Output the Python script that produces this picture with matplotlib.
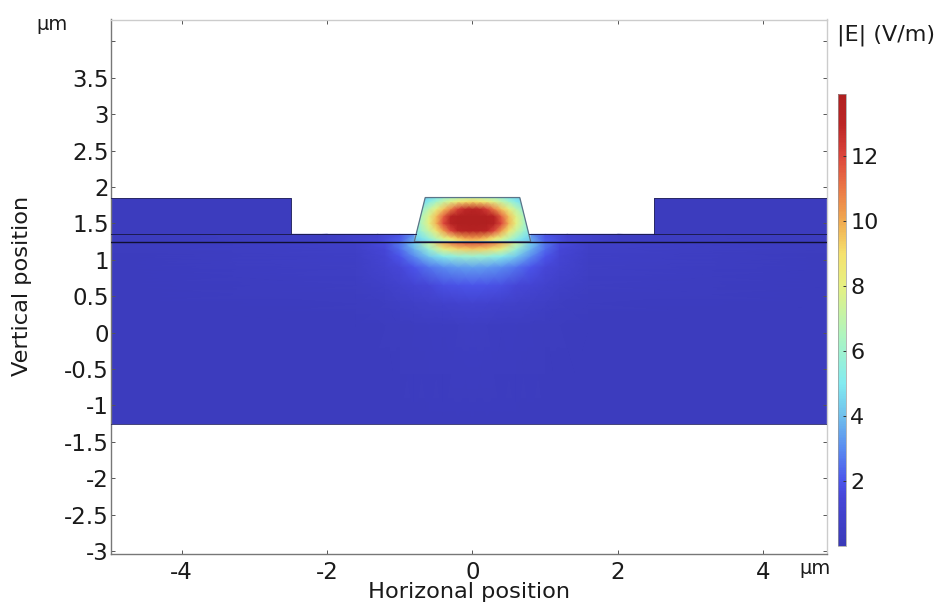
import numpy as np
import matplotlib
matplotlib.use('Agg')
import matplotlib.pyplot as plt
from matplotlib.colors import LinearSegmentedColormap, Normalize
from matplotlib.patches import Polygon

# layer heights (um)
substrate_bottom = -1.25
interface_y = 1.25
slab_top = 1.35
rib_top = 1.855
# rib outline
rib_top_half = 0.65
rib_bottom_half = 0.8
trench_half = 2.5

x_ticks = [-4, -2, 0, 2, 4]
y_ticks = [-3, -2.5, -2, -1.5, -1, -0.5, 0, 0.5, 1, 1.5, 2, 2.5, 3, 3.5, 4]
y_tick_labels = ['-3', '-2.5', '-2', '-1.5', '-1', '-0.5', '0', '0.5', '1', '1.5', '2', '2.5', '3', '3.5', '']
cbar_ticks = [2, 4, 6, 8, 10, 12]

# |E|, right half only (field is symmetric)
low_x = [0, 0.2, 0.4, 0.6, 0.8, 1.0, 1.2, 1.6, 5.0]
low_y = [-1.25, 0.1, 0.4, 0.65, 0.9, 1.05, 1.15, 1.25]
low_E = [
    [0.30, 0.30, 0.30, 0.30, 0.30, 0.30, 0.30, 0.30, 0.30],
    [0.55, 0.52, 0.48, 0.44, 0.40, 0.38, 0.35, 0.32, 0.30],
    [1.10, 1.05, 0.95, 0.85, 0.72, 0.60, 0.50, 0.40, 0.30],
    [2.00, 1.95, 1.80, 1.50, 1.25, 1.00, 0.80, 0.50, 0.30],
    [3.40, 3.30, 3.00, 2.60, 2.00, 1.50, 1.10, 0.60, 0.30],
    [6.00, 5.80, 5.20, 4.20, 3.00, 2.00, 1.30, 0.70, 0.32],
    [9.50, 9.20, 8.00, 5.80, 3.80, 2.40, 1.50, 0.75, 0.33],
    [12.2, 11.8, 10.3, 7.50, 4.50, 2.70, 1.70, 0.85, 0.35],
]

rib_x = [0, 0.1, 0.2, 0.3, 0.4, 0.5, 0.6, 0.7, 0.8]
rib_y = [1.25, 1.3, 1.4, 1.5, 1.6, 1.7, 1.8, 1.855]
rib_E = [
    [9.30, 9.10, 8.50, 7.60, 6.70, 5.80, 4.80, 4.40, 4.00],
    [10.3, 10.1, 9.60, 8.70, 7.80, 6.80, 5.80, 4.80, 4.30],
    [13.5, 13.4, 13.0, 11.9, 10.2, 8.60, 7.20, 6.10, 4.90],
    [13.9, 13.9, 13.8, 13.4, 11.9, 9.80, 8.00, 6.60, 5.30],
    [13.9, 13.9, 13.7, 13.2, 11.4, 9.60, 7.80, 6.60, 5.20],
    [13.1, 12.9, 12.2, 10.8, 9.50, 8.00, 6.90, 5.70, 4.70],
    [9.20, 9.00, 8.50, 7.80, 7.10, 6.20, 5.20, 4.60, 4.10],
    [7.30, 7.20, 6.90, 6.50, 5.90, 5.10, 4.60, 4.20, 3.90],
]

slab_x = [0.8, 1.0, 1.3, 2.0, 5.0]
slab_y = [1.25, 1.35]
slab_E = [
    [3.80, 2.20, 1.30, 0.55, 0.32],
    [3.20, 1.90, 1.10, 0.50, 0.32],
]

# COMSOL style rainbow
cmap_vals = [0, 1.5, 2, 3, 4, 5, 6.5, 8, 9, 10, 11, 12, 13, 13.9]
cmap_cols = ['#3a3ab8', '#4646d8', '#4b55eb', '#5a8cf0', '#70c0ec', '#82ebf0',
             '#afF5be', '#e6f082', '#f5e16e', '#f0aa50', '#eb7846', '#dc463c',
             '#bb2525', '#b02020']
vmax = 13.9
cmap = LinearSegmentedColormap.from_list('rainbow_comsol', [(v / vmax, c) for v, c in zip(cmap_vals, cmap_cols)])
norm = Normalize(0, vmax)


def mirror(x, E):
    x = np.array(x)
    E = np.array(E)
    return np.concatenate([-x[:0:-1], x]), np.hstack([E[:, :0:-1], E])


plt.rcParams['axes.unicode_minus'] = False
W, H = 936, 604
fig = plt.figure(figsize=(W / 100, H / 100), dpi=100)
ax = fig.add_axes([110.5 / W, 1 - 554 / H, (827 - 110.5) / W, (554 - 19.5) / H])

lx, lE = mirror(low_x, low_E)
mesh = ax.pcolormesh(lx, low_y, lE, cmap=cmap, norm=norm, shading='gouraud')

# slab left and right of the rib
sx, sE = np.array(slab_x), np.array(slab_E)
ax.pcolormesh(sx, slab_y, sE, cmap=cmap, norm=norm, shading='gouraud')
ax.pcolormesh(-sx[::-1], slab_y, sE[:, ::-1], cmap=cmap, norm=norm, shading='gouraud')

# outer ridges
ridge_col = cmap(norm(0.3))
ax.fill_between([-5, -trench_half], slab_top, rib_top, color=ridge_col, lw=0)
ax.fill_between([trench_half, 5], slab_top, rib_top, color=ridge_col, lw=0)

rx, rE = mirror(rib_x, rib_E)
rib_mesh = ax.pcolormesh(rx, rib_y, rE, cmap=cmap, norm=norm, shading='gouraud')
rib = Polygon([(-rib_bottom_half, interface_y), (-rib_top_half, rib_top),
               (rib_top_half, rib_top), (rib_bottom_half, interface_y)],
              closed=True, fc='none', ec='#5c7488', lw=0.9, zorder=3)
ax.add_patch(rib)
rib_mesh.set_clip_path(rib)

# outline of the layers
edge = '#2a2a66'
ax.plot([-5, -trench_half, -trench_half], [rib_top, rib_top, slab_top], color=edge, lw=0.7, zorder=3)
ax.plot([5, trench_half, trench_half], [rib_top, rib_top, slab_top], color=edge, lw=0.7, zorder=3)
ax.plot([-5, -rib_bottom_half + 0.03], [slab_top, slab_top], color='#1c1c50', lw=0.7, zorder=3)
ax.plot([rib_bottom_half - 0.03, 5], [slab_top, slab_top], color='#1c1c50', lw=0.7, zorder=3)
ax.plot([-5, 5], [interface_y, interface_y], color='#101030', lw=1.0, zorder=3)
ax.plot([-5, 5], [substrate_bottom, substrate_bottom], color=edge, lw=0.6, zorder=3)

ax.set_xlim(-4.976, 4.873)
ax.set_ylim(-3.04, 4.30)
ax.set_xticks(x_ticks)
ax.set_yticks(y_ticks)
ax.set_yticklabels(y_tick_labels)
ax.tick_params(direction='in', length=3, width=0.7, color='#555555', labelsize=16.5,
               top=True, right=True, pad=1, labelcolor='#1a1a1a')
ax.tick_params(axis='x', pad=5)
ax.spines['left'].set_color('#777777')
ax.spines['bottom'].set_color('#777777')
ax.spines['top'].set_color('#cccccc')
ax.spines['right'].set_color('#cccccc')
for s in ax.spines.values():
    s.set_linewidth(1.0)

fig.text(368 / W, 1 - 592 / H, 'Horizonal position', fontsize=16.2, color='#1a1a1a', va='center', ha='left')
fig.text(22 / W, 1 - 286 / H, 'Vertical position', fontsize=16.2, color='#1a1a1a', rotation=90, va='center', ha='center')
fig.text(36 / W, 1 - 24 / H, '\u00b5m', fontsize=14, color='#1a1a1a', va='center', ha='left')
fig.text(799 / W, 1 - 568 / H, '\u00b5m', fontsize=14, color='#1a1a1a', va='center', ha='left')
fig.text(837 / W, 1 - 35 / H, '|E| (V/m)', fontsize=16, color='#1a1a1a', va='center', ha='left')

cax = fig.add_axes([838 / W, 1 - 546 / H, 8 / W, (546 - 94) / H])
cbar = fig.colorbar(mesh, cax=cax)
cbar.set_ticks(cbar_ticks)
cbar.ax.tick_params(direction='in', length=2, width=0.7, color='#333333', labelsize=16, pad=3, labelcolor='#1a1a1a')
cbar.outline.set_edgecolor('#999999')
cbar.outline.set_linewidth(0.5)

fig.savefig('out.png', dpi=100)
